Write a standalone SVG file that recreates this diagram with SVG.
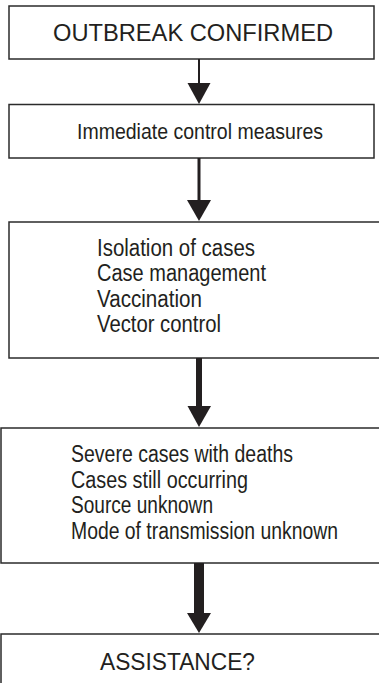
<svg xmlns="http://www.w3.org/2000/svg" width="379" height="683" viewBox="0 0 379 683">
<style>
.box{fill:#fff;stroke:#2b2b2b;stroke-width:1.5}
.t{font-family:"Liberation Sans Narrow","Liberation Sans",Arial,sans-serif;fill:#231f20}
.s{font-size:23px}
.ln{stroke:#231f20;fill:none}
.hd{fill:#231f20}
</style>
<rect width="379" height="683" fill="#fff"/>
<g id="n1">
<rect class="box" x="9" y="6" width="365" height="53"/>
<text class="t" x="53" y="41" font-size="24" textLength="280" lengthAdjust="spacingAndGlyphs">OUTBREAK CONFIRMED</text>
</g>
<g id="n2">
<rect class="box" x="9" y="104.5" width="365" height="53.5"/>
<text class="t" x="77" y="138.5" font-size="22" textLength="246" lengthAdjust="spacingAndGlyphs">Immediate control measures</text>
</g>
<g id="n3">
<rect class="box" x="9" y="222" width="380" height="136"/>
<text class="t s" x="97" y="255.5" textLength="158" lengthAdjust="spacingAndGlyphs">Isolation of cases</text>
<text class="t s" x="97" y="281" textLength="169" lengthAdjust="spacingAndGlyphs">Case management</text>
<text class="t s" x="97" y="306.5" textLength="105" lengthAdjust="spacingAndGlyphs">Vaccination</text>
<text class="t s" x="97" y="332" textLength="124" lengthAdjust="spacingAndGlyphs">Vector control</text>
</g>
<g id="n4">
<rect class="box" x="1" y="428" width="390" height="135"/>
<text class="t s" x="71" y="462" textLength="222" lengthAdjust="spacingAndGlyphs">Severe cases with deaths</text>
<text class="t s" x="71" y="487.5" textLength="177" lengthAdjust="spacingAndGlyphs">Cases still occurring</text>
<text class="t s" x="71" y="513" textLength="142" lengthAdjust="spacingAndGlyphs">Source unknown</text>
<text class="t s" x="71" y="538.5" textLength="267" lengthAdjust="spacingAndGlyphs">Mode of transmission unknown</text>
</g>
<g id="n5">
<rect class="box" x="1" y="634" width="390" height="70"/>
<text class="t" x="100" y="670" font-size="24" textLength="155" lengthAdjust="spacingAndGlyphs">ASSISTANCE?</text>
</g>
<g id="connectors">
<line class="ln" x1="199" y1="59" x2="199" y2="86" stroke-width="2"/>
<polygon class="hd" points="187.5,83 210.5,83 199,104"/>
<line class="ln" x1="199" y1="158" x2="199" y2="203" stroke-width="3"/>
<polygon class="hd" points="187,200 211,200 199,221"/>
<line class="ln" x1="199" y1="358" x2="199" y2="409" stroke-width="6"/>
<polygon class="hd" points="187.5,406 211,406 199,427"/>
<line class="ln" x1="199" y1="563" x2="199" y2="616" stroke-width="10"/>
<polygon class="hd" points="187,613 211,613 199,633"/>
</g>
</svg>
